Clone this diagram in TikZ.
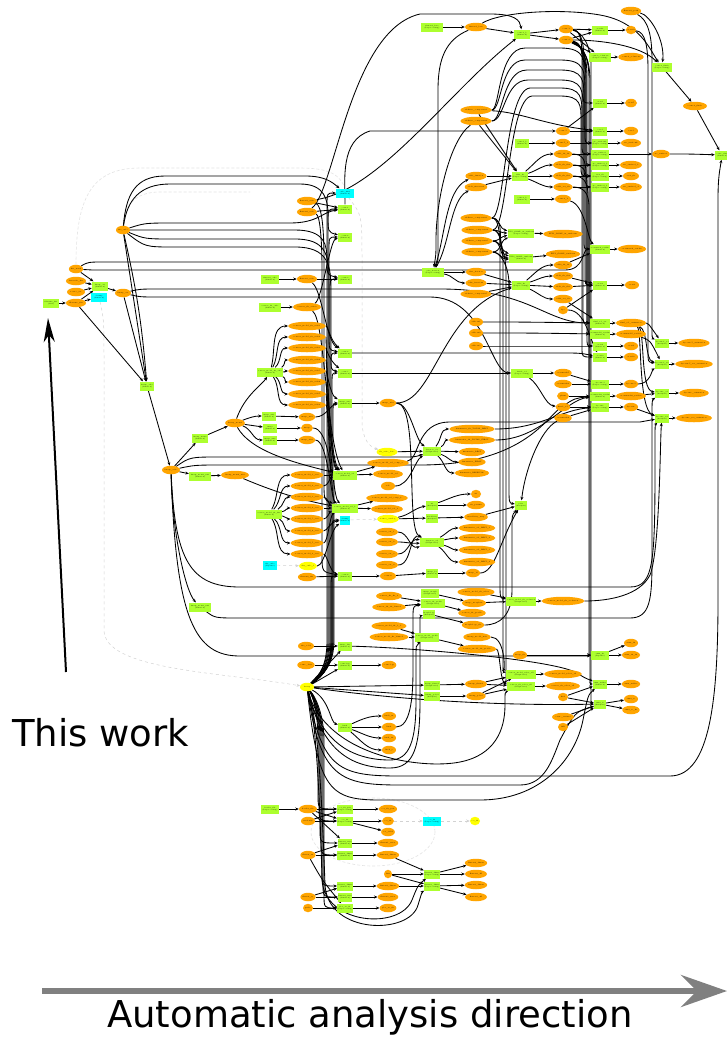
\documentclass[tikz,border=0pt]{standalone}
\usepackage{fontspec}
\newfontfamily\dejavu{DejaVu Sans}
\usetikzlibrary{shapes.geometric,arrows.meta,backgrounds}
\definecolor{gy}{HTML}{ADFF2F}
\definecolor{org}{HTML}{FFA500}
\definecolor{cy}{HTML}{00FFFF}
\definecolor{yl}{HTML}{FFFF00}
\definecolor{dirgray}{HTML}{808080}
\tikzset{
 on/.style={ellipse, fill=org, inner sep=0pt, minimum height=8.5pt, font=\fontsize{1.7}{2}\selectfont},
 gn/.style={rectangle, fill=gy, inner sep=0.3pt, minimum height=9pt, align=center, font=\fontsize{1.6}{1.9}\selectfont},
 cn/.style={gn, fill=cy},
 yn/.style={on, fill=yl},
 e/.style={draw=black, line width=0.85pt, -{Stealth[length=3.5pt,width=3pt]}},
 ge/.style={draw=gray!35, line width=0.5pt, dashed, -{Stealth[length=3.5pt,width=3pt]}},
 fe/.style={draw=gray!22, line width=0.6pt, dash pattern=on 3pt off 2pt},
 bigtext/.style={inner sep=0pt, font=\dejavu\fontsize{37}{40}\selectfont},
}
\newcommand\mkO[4]{\node[on,minimum width=#4pt] (#1) at (#2) {#3};}
\newcommand\mkG[4]{\node[gn,minimum width=#4pt] (#1) at (#2) {#3};}
\newcommand\mkC[4]{\node[cn,minimum width=#4pt] (#1) at (#2) {#3};}
\newcommand\mkY[4]{\node[yn,minimum width=#4pt] (#1) at (#2) {#3};}
\newcommand\mkE[2]{\draw[e] (#1) -- (#2);}
\begin{document}
\begin{tikzpicture}[x=1pt,y=1pt]
\useasboundingbox (0,0) rectangle (727,-1037);
% ---------------- left
\mkO{fitscube}{123,-230}{fits\_cube}{14}
\mkO{fitsmask}{76,-269}{fits\_mask}{14}
\mkO{datacube}{76,-281}{datacube\_fits}{20}
\mkO{sourcecat}{76,-292}{source\_cat}{18}
\mkO{fnfits}{76,-303}{filename\_fits}{20}
\mkG{fnfitsd}{51,-303}{filename\_fits\\(data)}{16}
\mkG{lcat}{100,-286}{lineup\_cat\\(Curation)}{16}
\mkC{lcatc}{99,-297}{cleanup\\(Curation)}{16}
\mkO{lcato}{123,-293}{lineup\_cat}{16}
\mkG{lcubeg}{147,-386}{lineup\_cube\\(Curation)}{14}
\mkO{lcube}{171,-470}{lineup\_cube}{18}
\mkG{lmom}{200,-438}{lineup\_mom0\\(Curation)}{16}
\mkO{lmomo}{235,-423}{lineup\_mom0}{18}
\mkG{img1g}{269,-416}{image\_w01\\(Curation)}{14}
\mkG{img2g}{270,-428}{image\\(Curation)}{14}
\mkG{img3g}{270,-440}{image\_w02\\(Curation)}{14}
\mkO{img1}{307,-417}{image\_w01}{16}
\mkO{img2}{307,-428}{image}{12}
\mkO{img3}{307,-440}{image\_w02}{16}
\mkG{lmomb}{200,-476}{lineup\_mom0\_w03\\(Curation)}{22}
\mkO{lmombo}{235,-475}{lineup\_mom0\_w03}{28}
\mkG{lmomc}{200,-607}{lineup\_mom0\_w01\\(Curation)}{22}
% ---------------- middle column
\mkC{cubefinal}{345,-193}{cube\_final\\(Curation)}{18}
\mkO{flat1}{307,-201}{flatten1\_cube}{18}
\mkO{flat2}{307,-212}{flatten2\_cube}{18}
\mkG{cosmo1}{345,-209}{cosmo1\\(Curation)}{14}
\mkG{cosmo2}{345,-237}{cosmo2\\(Curation)}{14}
\mkG{flat3g}{270,-279}{flatten3\_cube\\(Curation)}{18}
\mkO{flat3}{307,-279}{flatten3\_cube}{18}
\mkG{cosmo3}{345,-279}{cosmo3\\(Curation)}{14}
\mkG{srcfitg}{270,-307}{sources\_fit\_cube\\(Curation)}{22}
\mkO{srcfit}{307,-307}{sources\_fit\_cube0}{28}
\mkG{smfit}{270,-372}{sources\_model\_fit\_cube\\(Curation)}{26}
\mkO{smf1}{307,-326}{sources\_model\_fit\_cube1}{30}
\mkO{smf2}{307,-337}{sources\_model\_fit\_cube2}{30}
\mkO{smf3}{307,-348}{sources\_model\_fit\_cube3}{30}
\mkO{smf4}{307,-360}{sources\_model\_fit\_cube4}{30}
\mkO{smf5}{307,-371}{sources\_model\_fit\_cube5}{30}
\mkO{smf6}{307,-382}{sources\_model\_fit\_cube6}{30}
\mkO{smf7}{307,-394}{sources\_model\_fit\_cube7}{30}
\mkO{smf8}{307,-405}{sources\_model\_fit\_cube8}{30}
\mkG{cosmo4}{345,-353}{cosmo4\\(Curation)}{14}
\mkG{cosmo5}{345,-373}{cosmo5\\(Curation)}{14}
\mkG{imgw}{345,-403}{image\_w03\\(Curation)}{14}
\mkO{imgwo}{388,-403}{image\_w03}{16}
\mkG{smvel}{345,-475}{sources\_model\_vel\\(Curation)}{24}
\mkG{smvelb}{345,-508}{sources\_model\_vel\_b\\(Curation)}{26}
\mkC{cleanc}{345,-520}{cleanup\\(Curation)}{10}
\mkG{cosmo6}{345,-576}{cosmo6\\(Curation)}{14}
\mkG{smfr}{269,-514}{sources\_model\_fit\_flat\\(Curation)}{26}
\mkO{smr1}{307,-475}{sources\_model\_1\_resi}{28}
\mkO{smr2}{307,-486}{sources\_model\_2\_resi}{28}
\mkO{smr3}{307,-497}{sources\_model\_3\_resi}{28}
\mkO{smr4}{307,-508}{sources\_model\_4\_resi}{28}
\mkO{smr5}{307,-519}{sources\_model\_5\_resi}{28}
\mkO{smr6}{307,-531}{sources\_model\_6\_resi}{28}
\mkO{smr7}{307,-543}{sources\_model\_7\_resi}{28}
\mkO{smr8}{307,-554}{sources\_model\_8\_resi}{28}
\mkC{skycube}{270,-565}{sky\_cube\\(Pipeline)}{14}
\mkY{skyc1}{308,-566}{sky\_cube\_1}{14}
\mkO{flat4}{307,-577}{flatten4\_fits}{18}
\mkY{fitcube}{387,-452}{fit\_cube\_base}{14}
\mkO{smvo1}{388,-463}{sources\_model\_vel\_comp\_a}{40}
\mkO{smvo2}{388,-474}{sources\_model\_vel}{30}
\mkO{redo}{388,-486}{redo}{14}
\mkO{smvb1}{387,-498}{sources\_model\_vel\_comp\_b}{40}
\mkO{smvb2}{387,-509}{sources\_model\_vel\_b}{30}
\mkY{sourcey}{388,-519}{source\_catalog}{18}
\mkO{srcs1}{387,-532}{sources\_cat\_1}{22}
\mkO{srcs2}{387,-542}{sources\_cat\_2}{22}
\mkO{srcs3}{387,-554}{sources\_cat\_3}{22}
\mkO{srcs4}{387,-565}{sources\_cat\_4}{22}
\mkO{cosmo6o}{388,-576}{cosmo6}{16}
% ---------------- diagnostics
\mkG{diag1}{432,-451}{diagnose\_res\\(Diagnostics)}{18}
\mkO{d1a}{472,-429}{kinematics\_fit\_TOTAL\_BEST}{38}
\mkO{d1b}{472,-440}{kinematics\_fit\_TOTAL\_FIRST}{36}
\mkO{d1c}{472,-452}{kinematics\_BEST}{22}
\mkO{d1d}{472,-462}{kinematics\_FIRST}{22}
\mkO{d1e}{472,-473}{kinematics\_RESIDUAL}{30}
\mkG{sfg}{432,-505}{sfr\\(Analysis)}{12}
\mkG{metg}{432,-518}{metallicity\\(Analysis)}{12}
\mkO{sfr}{476,-494}{sfr}{10}
\mkO{sfrp}{476,-505}{sfr\_params}{18}
\mkO{met}{476,-517}{metallicity\_map}{20}
\mkG{diag2}{432,-542}{diagnose\_vel\\(Diagnostics)}{24}
\mkO{d2a}{477,-528}{kinematics\_vel\_BEST\_1}{34}
\mkO{d2b}{477,-538}{kinematics\_vel\_BEST\_2}{34}
\mkO{d2c}{477,-550}{kinematics\_vel\_BEST\_3}{34}
\mkO{d2d}{477,-562}{kinematics\_vel\_BEST\_4}{34}
\mkG{imgbg}{432,-573}{image\_bl\\(Curation)}{12}
\mkO{imgb}{473,-573}{image\_bl}{14}
\mkG{plotg}{521,-505}{plots\\(Analysis)}{12}
\mkG{smevg}{521,-601}{sources\_model\_fit\_evolution\\(Diagnostics)}{30}
\mkO{smev}{563,-601}{sources\_model\_fit\_evolution}{36}
\mkG{imgmg}{430,-593}{image\_morph\\(Diagnostics)}{18}
\mkO{smfsel}{476,-592}{sources\_model\_fit\_select}{30}
\mkO{imgm}{474,-603}{image\_morphom}{22}
\mkO{sffit}{389,-596}{sources\_fit\_fit\_b}{22}
\mkO{sfbin}{389,-607}{sources\_fit\_fit\_binned}{28}
\mkG{sfprof}{433,-603}{sources\_fit\_profile\\(Diagnostics)}{24}
\mkO{sfprofo}{472,-613}{sources\_fit\_profile}{26}
\mkG{morphg}{429,-614}{morphology\\(Analysis)}{12}
\mkO{morph}{473,-625}{morphology\_fit}{22}
\mkO{smf1b}{389,-626}{sources\_model\_fit\_1\_b}{22}
\mkO{smfbin}{389,-637}{sources\_model\_fit\_binned}{28}
\mkG{smprof}{427,-637}{sources\_model\_profile\\(Diagnostics)}{24}
\mkO{lineupm}{477,-637}{lineup\_model\_mf3}{22}
\mkO{smprofo}{477,-649}{sources\_model\_fit\_profile}{30}
% ---------------- lineup area
\mkO{flatsolid}{306,-646}{fits\_solid}{16}
\mkG{imgfits}{345,-646}{image\_fits\\(Curation)}{14}
\mkO{cosmo7o}{306,-665}{cosmo\_data}{16}
\mkG{cosmo7}{345,-665}{cosmology\\(Curation)}{14}
\mkO{cosmology}{389,-665}{cosmology}{14}
\mkY{lineup}{307,-687}{lineup}{14}
\mkG{lfirst}{432,-685}{lineup\_firstsel\\(Diagnostics)}{16}
\mkO{lfirsto}{476,-684}{lineup\_firstsel}{22}
\mkG{lpol}{432,-696}{lineup\_polsel\\(Analysis)}{16}
\mkO{lpolo}{476,-696}{lineup\_polsel}{16}
\mkG{smsel}{521,-674}{sources\_model\_select\_all\\(Diagnostics)}{30}
\mkO{smselo}{563,-674}{sources\_model\_select\_all}{36}
\mkG{sfsel}{521,-686}{sources\_fit\_select\_all\\(Diagnostics)}{28}
\mkO{sfselo}{563,-686}{sources\_fit\_select\_all}{34}
\mkO{imgfit}{520,-655}{image\_fit}{12}
\mkG{simfit}{600,-655}{simu\_fit\\(Pipeline)}{18}
\mkO{simfita}{631,-643}{simu\_fit}{14}
\mkO{simfitb}{631,-655}{simu\_fit\_fit}{16}
\mkO{fitA}{563,-697}{fitA}{10}
\mkG{simwal}{600,-684}{simu\_walker\\(Curation)}{14}
\mkO{simwalo}{631,-684}{simu\_walker}{18}
\mkG{simre}{600,-704}{simu\_re\\(Analysis)}{12}
\mkO{simrea}{631,-699}{simu\_re}{14}
\mkO{simreb}{631,-710}{simu\_re\_fit}{16}
\mkO{cosmotr}{563,-717}{cosmo\_trainsel}{18}
\mkO{fitB}{563,-727}{fitB}{10}
\mkG{lineh}{345,-727}{lineh\\(Curation)}{14}
\mkO{lineha}{389,-716}{lineh\_sn}{14}
\mkO{linehb}{389,-727}{lineh}{14}
\mkO{linehc}{389,-738}{lineh\_fit}{14}
\mkO{linehd}{389,-750}{lineh\_y}{14}
% ---------------- bottom group
\mkG{headerg}{270,-809}{header\_file\\(Preprocessing)}{18}
\mkO{header}{308,-809}{header\_file}{18}
\mkG{cosfitg}{345,-809}{cos\_fit\_pair\\(Preprocessing)}{16}
\mkO{cosfit}{388,-809}{cos\_fit\_pair}{16}
\mkO{randomo}{308,-821}{randomly}{14}
\mkG{cosg}{345,-821}{cos\_fit\\(Preprocessing)}{16}
\mkO{cosfito}{388,-821}{cos\_fit}{12}
\mkO{cosvalid}{388,-832}{cos\_valid}{12}
\mkC{cosc}{432,-821}{cos\_fit\\(Preprocessing)}{18}
\mkY{cosy}{475,-821}{cos\_fit}{10}
\mkG{fl1g}{345,-843}{flatten1\_rates\\(Curation)}{14}
\mkO{fl1}{388,-843}{flatten1\_rates}{16}
\mkO{flxo}{308,-855}{flatten\_xx}{14}
\mkG{fl2g}{345,-855}{flatten1\_dfmax\\(Curation)}{14}
\mkO{fl2}{388,-855}{flatten1\_dfmax}{16}
\mkO{dust}{388,-874}{dust}{8}
\mkG{fl3g}{432,-874}{flatten2\_dfmax\\(Preprocessing)}{16}
\mkG{fl4g}{432,-886}{flatten3\_dfmax\\(Preprocessing)}{16}
\mkO{r1}{476,-863}{flatten2\_dfmax}{22}
\mkO{r2}{476,-874}{flatten2\_dfl}{22}
\mkO{r3}{476,-885}{flatten3\_dfmax}{22}
\mkO{r4}{476,-897}{flatten3\_dfl}{22}
\mkG{fl5g}{345,-886}{flatten3\_dfmax\\(Curation)}{14}
\mkO{fl5}{388,-886}{flatten3\_dfmax}{16}
\mkO{flyo}{308,-897}{flatten\_yy}{14}
\mkG{fl6g}{345,-897}{flatten3\_rates\\(Curation)}{14}
\mkO{fl6}{388,-897}{flatten3\_rates}{14}
\mkO{gradio}{308,-908}{gradio}{10}
\mkG{pltg}{345,-908}{plot\_as\_fit\\(Preprocessing)}{14}
\mkO{plt}{388,-908}{plot\_as\_fit}{12}
% ---------------- top right
\mkG{flbase}{432,-27}{flatten1\_base\\(Preprocessing)}{22}
\mkO{flbaseo}{476,-27}{flatten1\_base}{22}
\mkG{cosm1}{522,-34}{cosmo1\_b\\(Curation)}{16}
\mkO{cm1}{566,-29}{cosmo1}{14}
\mkO{cm2}{566,-40}{cosmo2}{14}
\mkG{crosslg}{600,-30}{crossfit\\(Curation)}{16}
\mkO{crossl}{631,-30}{crossfit}{10}
\mkO{flpeak}{631,-11}{flatten1\_peak}{20}
\mkG{cm2solg}{600,-57}{cosmo2\_solutions\\(Preprocessing)}{22}
\mkO{cm2sol}{631,-57}{cosmo2\_solutions}{24}
\mkG{cm2fin}{662,-67}{cosmo2\_finale\\(Preprocessing)}{20}
\mkO{cm2fino}{695,-106}{cosmo2\_finale}{24}
\mkG{final}{722,-155}{cosmo\_final\\(Curation)}{14}
\mkO{adt1}{476,-110}{additive\_component1}{26}
\mkO{adt2}{476,-121}{additive\_component2}{26}
\mkG{cross7g}{600,-103}{cross7\\(Curation)}{14}
\mkO{cross7}{631,-103}{cross7}{12}
\mkO{cosmo7b}{563,-131}{cosmo7}{14}
\mkG{cossolg}{600,-131}{cossol\\(Curation)}{14}
\mkO{cossol}{631,-131}{cossol}{14}
\mkG{cosmo7g}{522,-143}{cosmo7\_b\\(Curation)}{14}
\mkO{cosmo7c}{563,-143}{cosmo7\_b}{14}
\mkG{sncg}{600,-143}{src\_surfcomb\\(Preprocessing)}{16}
\mkO{snc}{631,-143}{src\_surfcomb}{20}
\mkG{sncfg}{600,-154}{src\_surfacef\\(Preprocessing)}{18}
\mkO{sncf}{661,-154}{src\_surfacef}{16}
\mkO{add1}{563,-154}{add1\_fit\_fit}{14}
\mkO{add2}{563,-165}{add1\_fit\_fit2}{14}
\mkO{add3}{563,-176}{add1\_fit\_fit3}{14}
\mkO{add4}{563,-187}{add1\_res\_fit}{14}
\mkG{snc2g}{600,-165}{src\_surfacel\_b\\(Preprocessing)}{18}
\mkO{snc2}{631,-165}{src\_surfacel\_b}{22}
\mkG{snc3g}{600,-176}{src2\_fit\\(Preprocessing)}{18}
\mkO{snc3}{631,-176}{src2\_fit}{16}
\mkG{snc4g}{600,-187}{src\_surfacel\_d\\(Preprocessing)}{18}
\mkO{snc4}{631,-187}{src\_surfacel\_d}{22}
\mkG{addfit}{520,-176}{add1\_fit\\(Preprocessing)}{16}
\mkO{addf1}{476,-176}{add1\_function}{18}
\mkO{addf2}{476,-187}{add1\_function2}{20}
\mkG{cm8g}{522,-199}{cosmo8\_b\\(Curation)}{16}
\mkO{cm8}{563,-199}{cosmo8\_b}{16}
\mkO{adc1}{476,-218}{additive\_component3}{26}
\mkO{adc2}{477,-230}{additive\_component4}{26}
\mkO{adc3}{477,-241}{additive\_component5}{26}
\mkO{adc4}{477,-252}{additive\_component6}{26}
\mkG{fitsA}{521,-233}{FITS\_COMP\_in\_sunbeam\\(Preprocessing)}{26}
\mkO{fitsAo}{563,-234}{FITS\_COMP\_in\_sunbeam}{32}
\mkG{fitsB}{521,-258}{FITS\_COMP\_sunbeam\\(Curation)}{24}
\mkO{fitsBo}{563,-254}{FITS\_COMP\_sunbeam}{32}
\mkG{sdssfit}{433,-272}{sdss\_fraction\\(Preprocessing)}{22}
\mkO{sdss1}{476,-272}{sdss\_fraction}{20}
\mkO{sdss2}{476,-283}{sdss\_fraction2}{20}
\mkO{adc5}{476,-294}{additive\_component7}{26}
\mkG{addb}{521,-285}{add2\_fit\\(Preprocessing)}{18}
\mkO{ab1}{563,-265}{add2\_fit\_fit}{16}
\mkO{ab2}{563,-276}{add2\_fit\_fit2}{16}
\mkO{ab3}{563,-287}{add2\_fit\_fit3}{16}
\mkO{ab4}{563,-299}{add2\_res\_fit}{16}
\mkO{dpc}{563,-310}{dpc}{10}
\mkG{cmrg}{600,-249}{crossmatch\_residue\\(Curation)}{18}
\mkO{cmr}{632,-249}{crossmatch\_residue}{24}
\mkG{cross8g}{600,-285}{cross8\\(Curation)}{14}
\mkO{cross8}{632,-285}{cross8}{14}
\mkO{addc1}{476,-322}{addcom1}{14}
\mkO{addc2}{476,-333}{addcom2}{14}
\mkO{addc3}{476,-346}{addcom3}{14}
\mkG{finalsg}{600,-323}{final\_sol\_est\\(Curation)}{20}
\mkO{finals}{631,-323}{final\_sol\_estimation}{24}
\mkG{cm7rg}{600,-334}{crossmatch7\_residue\\(Curation)}{18}
\mkO{cm7r}{631,-334}{crossmatch7\_residue}{24}
\mkG{cross9g}{600,-346}{cross9\\(Curation)}{14}
\mkO{cross9}{631,-346}{cross9}{14}
\mkG{cross10g}{600,-357}{cross10\\(Curation)}{14}
\mkO{cross10}{631,-357}{cross10}{14}
\mkG{dc7g}{662,-343}{dycosmo7\_sol\\(Analysis)}{14}
\mkO{dc7}{694,-343}{dycosmo7\_estimation}{26}
\mkG{dc7bg}{662,-364}{dycosmo7\_res\\(Analysis)}{14}
\mkO{dc7b}{694,-364}{dycosmo7\_res\_estimation}{30}
\mkG{dcmg}{662,-393}{dycosmo\_sol\\(Analysis)}{14}
\mkO{dcm}{694,-393}{dycosmo\_estimation}{28}
\mkG{dcm2g}{662,-418}{dycosmo\_res\\(Analysis)}{14}
\mkO{dcm2}{694,-418}{dycosmo\_res\_estimation}{30}
\mkG{fittab}{522,-373}{fittab\_sol\\(Preprocessing)}{22}
\mkO{ft1}{563,-373}{crossmatch7}{14}
\mkO{ft2}{563,-384}{crossmatch8}{14}
\mkO{ft3}{563,-396}{gdiam}{12}
\mkO{ft4}{563,-407}{fittab\_sol}{12}
\mkO{ft5}{563,-418}{crossmatch9}{14}
\mkG{dc8g}{600,-384}{dycosmo7\\(Preprocessing)}{18}
\mkO{dc8}{631,-384}{dycosmo7}{14}
\mkG{cm9g}{600,-396}{crossmatch9\_residue\\(Curation)}{18}
\mkO{cm9}{631,-396}{crossmatch9\_residue}{24}
\mkG{dyg}{600,-407}{dycosmo\\(Preprocessing)}{18}
\mkO{dy}{631,-407}{dycosmo}{14}
% ---------------- texts and big arrows
\node[bigtext, anchor=base west] (thiswork) at (12,-746) {This work};
\node[bigtext, anchor=base west] (direction) at (107,-1027) {Automatic analysis direction};
\coordinate (twA) at (66,-672);
\coordinate (twB) at (48,-318);
\coordinate (dirA) at (42,-991);
\coordinate (dirB) at (727,-991);
\draw[line width=2pt, -{Stealth[length=24pt,width=11pt,inset=7pt]}] (twA) -- (twB);
\draw[dirgray, line width=6pt, -{Stealth[length=46pt,width=32pt,inset=16pt]}] (dirA) -- (dirB);

\begin{pgfonlayer}{background}
\fill[white] (0,0) rectangle (727,-1037);
% faint cluster lines
\draw[fe] (fitsmask.north) .. controls (76,-200) and (90,-168) .. (140,-168) -- (300,-168) .. controls (330,-168) and (340,-175) .. (cubefinal.north);
\draw[fe] (fitscube.north) .. controls (125,-205) and (135,-192) .. (160,-192) -- (250,-192);
\draw[ge] (lcatc) .. controls (104,-320) .. (104,-360) -- (104,-630) .. controls (104,-670) and (220,-672) .. (lineup);
\draw[ge] (cubefinal) .. controls (362,-215) .. (362,-260) -- (362,-420) .. controls (362,-440) and (370,-447) .. (fitcube);
\draw[fe] (373,-832) ellipse (62pt and 34pt);
% left
\mkE{fnfitsd}{fnfits}
\mkE{fitsmask}{lcat}
\mkE{datacube}{lcat}
\mkE{sourcecat}{lcat}
\mkE{fnfits}{lcat}
\mkE{fnfits}{lcatc}
\mkE{lcat}{lcato}
\mkE{fnfits}{lcubeg}
\mkE{lcato}{lcubeg}
\mkE{fitscube}{lcubeg}
\draw[e] (fitscube) to[bend left=4] (lcubeg);
\mkE{lcubeg}{lcube}
\mkE{lcube}{lmom}
\mkE{lmom}{lmomo}
\draw[e] (lmomo) to[out=20,in=180] (img1g);
\mkE{lmomo}{img2g}
\draw[e] (lmomo) to[out=-20,in=180] (img3g);
\mkE{img1g}{img1}
\mkE{img2g}{img2}
\mkE{img3g}{img3}
\mkE{lcube}{lmomb}
\mkE{lmomb}{lmombo}
\draw[e] (lcube) .. controls (172,-530) and (185,-590) .. (lmomc);
% fitscube fan
\draw[e] (fitscube) .. controls (126,-195) and (135,-176) .. (165,-176) -- (305,-176) .. controls (325,-176) and (332,-182) .. (cubefinal);
\draw[e] (fitscube) .. controls (127,-200) and (140,-184) .. (170,-184) -- (300,-184) .. controls (325,-184) and (328,-200) .. (328,-215) .. controls (328,-232) .. (cosmo2);
\draw[e] (fitscube) .. controls (145,-223) .. (175,-223) -- (290,-223) .. controls (318,-223) and (322,-212) .. (cosmo1);
\draw[e] (fitscube) .. controls (145,-230) .. (175,-230) -- (295,-230) .. controls (325,-230) and (327,-245) .. (327,-260) .. controls (327,-275) .. (cosmo3);
\draw[e] (fitscube) .. controls (145,-239) .. (175,-239) -- (295,-239) .. controls (326,-239) and (329,-255) .. (329,-280) -- (329,-335) .. controls (329,-350) .. (cosmo4);
\draw[e] (fitscube) .. controls (145,-247) .. (175,-247) -- (295,-247) .. controls (328,-247) and (331,-265) .. (331,-290) -- (331,-355) .. controls (331,-370) .. (cosmo5);
% long horizontals from the left
\draw[e] (fitsmask) .. controls (88,-262) .. (105,-262) -- (495,-262) .. controls (512,-262) .. (fitsB);
\draw[e] (fitsmask) .. controls (90,-270) .. (110,-270) -- (565,-270) .. controls (585,-270) and (582,-249) .. (cmrg);
\draw[e] (lcato) .. controls (140,-289) .. (160,-289) -- (440,-289) .. controls (530,-289) and (545,-323) .. (finalsg);
\draw[e] (lcato) .. controls (140,-297) .. (160,-297) -- (430,-297) .. controls (485,-297) and (490,-373) .. (fittab);
\draw[e] (lcube) .. controls (190,-457) .. (220,-457) -- (400,-457) .. controls (415,-457) .. (diag1);
\draw[e] (lcube) .. controls (195,-465) .. (225,-465) -- (420,-465) .. controls (520,-465) and (545,-420) .. (560,-408) .. controls (575,-398) .. (cm9g);
\draw[e] (lcube) .. controls (175,-560) and (190,-587) .. (240,-587) -- (630,-587) .. controls (655,-587) and (655,-560) .. (655,-450) .. controls (655,-425) .. (dcm2g);
\draw[e] (lcube) .. controls (176,-620) and (195,-656) .. (240,-656) -- (585,-656) -- (simfit);
\draw[e] (lmomc) .. controls (215,-618) .. (240,-618) -- (630,-618) .. controls (650,-618) and (652,-600) .. (652,-560) -- (652,-420) .. controls (652,-400) .. (dcmg);
\draw[e] (lmomo) .. controls (245,-395) and (262,-385) .. (smfit);
\draw[e] (lmomo) .. controls (250,-450) and (290,-462) .. (smvel);
\draw[e] (lmombo) .. controls (270,-490) and (300,-500) .. (smvelb);
\draw[e] (img1) .. controls (326,-417) and (330,-405) .. (imgw);
\draw[e] (img2) .. controls (327,-428) and (331,-470) .. (smvel);
\draw[e] (img3) .. controls (328,-440) and (331,-500) .. (smvelb);
% middle column
\mkE{flat1}{cosmo1}
\mkE{flat2}{cosmo1}
\draw[e] (flat1) .. controls (322,-205) and (324,-230) .. (324,-260) -- (324,-480) .. controls (324,-500) .. (smvelb);
\draw[e] (flat2) .. controls (320,-215) and (322,-240) .. (322,-270) -- (322,-555) .. controls (322,-572) .. (cosmo6);
\mkE{flat3g}{flat3}
\mkE{flat3}{cosmo3}
\draw[e] (flat3) .. controls (322,-290) and (326,-340) .. (cosmo4);
\mkE{srcfitg}{srcfit}
\draw[e] (srcfit) .. controls (325,-320) and (326,-440) .. (smvel);
\draw[e] (srcfit) .. controls (322,-300) and (330,-240) .. (cosmo2);
\draw[e] (smfit) to[out=75,in=180] (smf1);
\draw[e] (smfit) to[out=60,in=180] (smf2);
\draw[e] (smfit) to[out=42,in=180] (smf3);
\draw[e] (smfit) to[out=22,in=180] (smf4);
\draw[e] (smfit) to[out=0,in=180] (smf5);
\draw[e] (smfit) to[out=-20,in=180] (smf6);
\draw[e] (smfit) to[out=-40,in=180] (smf7);
\draw[e] (smfit) to[out=-55,in=180] (smf8);
\draw[e] (smf1) .. controls (328,-326) and (330,-340) .. (cosmo4);
\draw[e] (smf2) .. controls (326,-337) and (329,-460) .. (smvel);
\draw[e] (smf3) .. controls (326,-348) and (329,-360) .. (cosmo5);
\draw[e] (smf4) .. controls (327,-360) and (330,-465) .. (smvel);
\draw[e] (smf5) .. controls (327,-371) and (330,-395) .. (imgw);
\draw[e] (smf6) .. controls (327,-382) and (331,-495) .. (smvelb);
\draw[e] (smf7) .. controls (327,-394) and (331,-500) .. (smvelb);
\draw[e] (smf8) .. controls (328,-405) and (332,-465) .. (smvel);
\draw[e] (cosmo4) .. controls (400,-353) .. (450,-353) -- (560,-353) .. controls (580,-353) .. (cross10g);
\mkE{cosmo5}{fittab}
\mkE{imgw}{imgwo}
\draw[e] (imgwo) .. controls (410,-403) and (415,-440) .. (diag1);
\draw[e] (imgwo) .. controls (420,-403) and (405,-530) .. (diag2);
\draw[e] (imgwo) .. controls (435,-403) and (440,-310) .. (addb);
\draw[e] (smfr) to[out=60,in=180] (smr1);
\draw[e] (smfr) to[out=45,in=180] (smr2);
\draw[e] (smfr) to[out=28,in=180] (smr3);
\draw[e] (smfr) to[out=10,in=180] (smr4);
\draw[e] (smfr) to[out=-8,in=180] (smr5);
\draw[e] (smfr) to[out=-25,in=180] (smr6);
\draw[e] (smfr) to[out=-42,in=180] (smr7);
\draw[e] (smfr) to[out=-58,in=180] (smr8);
\mkE{smr1}{smvel}
\draw[e] (smr2) .. controls (328,-486) and (330,-478) .. (smvel);
\draw[e] (smr3) .. controls (327,-497) and (330,-505) .. (smvelb);
\mkE{smr4}{smvelb}
\draw[e] (smr5) .. controls (327,-519) and (330,-512) .. (smvelb);
\draw[e] (smr6) .. controls (327,-531) and (330,-522) .. (cleanc);
\draw[e] (smr7) .. controls (328,-543) and (330,-515) .. (smvelb);
\draw[e] (smr8) .. controls (327,-554) and (330,-572) .. (cosmo6);
\draw[ge] (skycube) -- (skyc1);
\draw[e] (skyc1) .. controls (325,-566) and (330,-530) .. (cleanc);
\mkE{flat4}{cosmo6}
\mkE{cosmo6}{cosmo6o}
\mkE{smvel}{smvo1}
\mkE{smvel}{smvo2}
\mkE{smvelb}{smvb1}
\mkE{smvelb}{smvb2}
\draw[ge] (cleanc) -- (sourcey);
\draw[e] (sourcey) to[out=10,in=190] (sfg);
\mkE{sourcey}{metg}
\draw[e] (srcs1) to[out=0,in=200] (diag2);
\draw[e] (srcs2) to[out=0,in=185] (diag2);
\draw[e] (srcs3) to[out=0,in=170] (diag2);
\draw[e] (srcs4) to[out=0,in=155] (diag2);
\draw[e] (redo) .. controls (410,-486) and (415,-460) .. (diag1);
\mkE{fitcube}{diag1}
\draw[e] (diag1) to[out=50,in=180] (d1a);
\draw[e] (diag1) to[out=25,in=180] (d1b);
\mkE{diag1}{d1c}
\draw[e] (diag1) to[out=-20,in=180] (d1d);
\draw[e] (diag1) to[out=-40,in=180] (d1e);
\draw[e] (sfg) to[out=20,in=180] (sfr);
\mkE{sfg}{sfrp}
\mkE{metg}{met}
\mkE{met}{plotg}
\draw[e] (diag2) to[out=30,in=180] (d2a);
\draw[e] (diag2) to[out=10,in=180] (d2b);
\draw[e] (diag2) to[out=-15,in=180] (d2c);
\draw[e] (diag2) to[out=-35,in=180] (d2d);
\mkE{cosmo6o}{imgbg}
\mkE{imgbg}{imgb}
\draw[e] (imgb) .. controls (495,-573) and (500,-540) .. (plotg);
\draw[e] (ft5) .. controls (540,-430) and (525,-470) .. (plotg);
% lower middle
\mkE{sffit}{sfprof}
\mkE{sfbin}{sfprof}
\mkE{imgmg}{imgm}
\mkE{sfprof}{sfprofo}
\mkE{morphg}{morph}
\mkE{smprof}{smprofo}
\mkE{smfsel}{smevg}
\mkE{imgm}{smevg}
\mkE{smevg}{smev}
\draw[e] (morph) .. controls (500,-625) and (512,-615) .. (512,-590) -- (512,-530) .. controls (512,-515) .. (plotg);
\draw[e] (lineupm) .. controls (505,-637) and (505,-670) .. (smsel);
\draw[e] (smprofo) .. controls (500,-649) and (500,-682) .. (sfsel);
\mkE{smf1b}{smprof}
\mkE{smfbin}{smprof}
\mkE{flatsolid}{imgfits}
\mkE{cosmo7o}{cosmo7}
\mkE{cosmo7}{cosmology}
\draw[e] (imgfits) .. controls (420,-648) and (550,-660) .. (575,-672) .. controls (585,-678) .. (simwal);
\mkE{imgfit}{simfit}
\mkE{simfit}{simfita}
\mkE{simfit}{simfitb}
\mkE{fitA}{simre}
\mkE{fitA}{simwal}
\mkE{cosmotr}{simre}
\mkE{fitB}{simre}
\mkE{simre}{simrea}
\mkE{simre}{simreb}
\mkE{simwal}{simwalo}
\mkE{lfirst}{lfirsto}
\mkE{lpol}{lpolo}
\mkE{lfirsto}{smsel}
\mkE{lfirsto}{sfsel}
\mkE{lpolo}{sfsel}
\mkE{lpolo}{smsel}
\mkE{smsel}{smselo}
\mkE{sfsel}{sfselo}
\draw[e] (lineh) to[out=25,in=180] (lineha);
\mkE{lineh}{linehb}
\draw[e] (lineh) to[out=-20,in=180] (linehc);
\draw[e] (lineh) to[out=-40,in=180] (linehd);
\draw[e] (linehb) .. controls (410,-727) and (413,-700) .. (413,-670) -- (413,-620) .. controls (413,-606) .. (sfprof);
% lineup fan
\mkE{lineup}{imgfits}
\mkE{lineup}{cosmo7}
\mkE{lineup}{lfirst}
\mkE{lineup}{lpol}
\draw[e] (lineup) .. controls (400,-700) and (500,-706) .. (simre);
\draw[e] (lineup) .. controls (330,-700) and (330,-722) .. (lineh);
\draw[e] (lineup) .. controls (320,-675) and (327,-665) .. (327,-640) -- (327,-207) .. controls (327,-193) .. (cubefinal);
\draw[e] (lineup) .. controls (320,-675) and (328,-665) .. (328,-640) -- (328,-223) .. controls (328,-209) .. (cosmo1);
\draw[e] (lineup) .. controls (321,-675) and (329,-665) .. (329,-640) -- (329,-251) .. controls (329,-237) .. (cosmo2);
\draw[e] (lineup) .. controls (321,-675) and (330,-665) .. (330,-640) -- (330,-293) .. controls (330,-279) .. (cosmo3);
\draw[e] (lineup) .. controls (322,-675) and (331,-665) .. (331,-640) -- (331,-367) .. controls (331,-353) .. (cosmo4);
\draw[e] (lineup) .. controls (322,-675) and (332,-665) .. (332,-640) -- (332,-387) .. controls (332,-373) .. (cosmo5);
\draw[e] (lineup) .. controls (323,-675) and (333,-665) .. (333,-640) -- (333,-417) .. controls (333,-403) .. (imgw);
\draw[e] (lineup) .. controls (323,-675) and (334,-665) .. (334,-640) -- (334,-489) .. controls (334,-475) .. (smvel);
\draw[e] (lineup) .. controls (324,-675) and (333,-665) .. (333,-640) -- (333,-522) .. controls (333,-508) .. (smvelb);
\draw[e] (lineup) .. controls (324,-675) and (332,-665) .. (332,-640) -- (332,-534) .. controls (332,-520) .. (cleanc);
\draw[e] (lineup) .. controls (325,-675) and (331,-665) .. (331,-640) -- (331,-590) .. controls (331,-576) .. (cosmo6);
\draw[e] (lineup) .. controls (315,-700) and (318,-720) .. (318,-740) -- (318,-795) .. controls (318,-809) .. (cosfitg);
\draw[e] (lineup) .. controls (315,-700) and (319,-720) .. (319,-740) -- (319,-807) .. controls (319,-821) .. (cosg);
\draw[e] (lineup) .. controls (316,-700) and (320,-720) .. (320,-740) -- (320,-829) .. controls (320,-843) .. (fl1g);
\draw[e] (lineup) .. controls (316,-700) and (321,-720) .. (321,-740) -- (321,-841) .. controls (321,-855) .. (fl2g);
\draw[e] (lineup) .. controls (317,-700) and (322,-720) .. (322,-740) -- (322,-872) .. controls (322,-886) .. (fl5g);
\draw[e] (lineup) .. controls (317,-700) and (323,-720) .. (323,-740) -- (323,-883) .. controls (323,-897) .. (fl6g);
\draw[e] (lineup) .. controls (318,-700) and (324,-720) .. (324,-740) -- (324,-894) .. controls (324,-908) .. (pltg);
\draw[e] (lineup) .. controls (316,-720) and (320,-800) .. (322,-880) .. controls (325,-925) and (400,-930) .. (412,-900) .. controls (418,-885) .. (fl3g);
\draw[e] (lineup) .. controls (318,-720) and (322,-800) .. (325,-885) .. controls (328,-935) and (410,-935) .. (418,-905) .. controls (422,-892) .. (fl4g);
\draw[e] (lineup) .. controls (320,-740) and (350,-760) .. (390,-760) .. controls (410,-760) and (416,-740) .. (416,-700) -- (416,-660) .. controls (416,-645) .. (smprof);
\draw[e] (lineup) .. controls (322,-750) and (350,-768) .. (390,-768) .. controls (415,-768) and (420,-745) .. (420,-700) -- (420,-628) .. controls (420,-616) .. (morphg);
\draw[e] (lineup) .. controls (325,-755) and (420,-770) .. (460,-762) .. controls (495,-755) and (505,-730) .. (505,-705) .. controls (505,-692) .. (sfsel);
\draw[e] (lineup) .. controls (322,-770) and (340,-776) .. (400,-776) -- (670,-776) .. controls (710,-776) and (718,-700) .. (718,-600) -- (718,-200) .. controls (718,-175) and (720,-170) .. (final);
\draw[e] (lineup) .. controls (320,-778) and (340,-785) .. (400,-785) -- (520,-785) .. controls (545,-785) and (552,-760) .. (560,-740) .. controls (575,-712) .. (simre);
\draw[e] (lineup) .. controls (318,-790) and (330,-800) .. (380,-800) -- (480,-800) .. controls (540,-800) and (575,-760) .. (583,-720) .. controls (588,-695) .. (simwal);
% bottom group
\mkE{headerg}{header}
\mkE{header}{cosfitg}
\mkE{header}{cosg}
\mkE{header}{fl1g}
\mkE{randomo}{cosfitg}
\mkE{randomo}{cosg}
\mkE{cosfitg}{cosfit}
\mkE{cosg}{cosfito}
\mkE{cosg}{cosvalid}
\draw[ge] (cosfito) -- (cosc);
\draw[ge] (cosc) -- (cosy);
\mkE{flxo}{fl1g}
\mkE{flxo}{fl2g}
\mkE{fl1g}{fl1}
\mkE{fl2g}{fl2}
\mkE{fl2}{fl3g}
\mkE{dust}{fl3g}
\mkE{dust}{fl4g}
\mkE{fl5}{fl4g}
\mkE{fl3g}{r1}
\mkE{fl3g}{r2}
\mkE{fl4g}{r3}
\mkE{fl4g}{r4}
\mkE{flyo}{fl5g}
\mkE{flyo}{fl6g}
\mkE{fl5g}{fl5}
\mkE{fl6g}{fl6}
\mkE{gradio}{pltg}
\mkE{pltg}{plt}
\draw[e] (flxo) .. controls (322,-880) .. (pltg);
% top right
\mkE{flbase}{flbaseo}
\mkE{flbaseo}{cosm1}
\draw[e] (flbaseo) .. controls (500,-12) and (560,-8) .. (600,-15) .. controls (640,-22) and (650,-50) .. (cm2fin);
\mkE{cosm1}{cm1}
\mkE{cosm1}{cm2}
\mkE{cm1}{crosslg}
\mkE{cm2}{crosslg}
\mkE{crosslg}{crossl}
\mkE{cm1}{cm2solg}
\mkE{cm2}{cm2solg}
\mkE{cm2solg}{cm2sol}
\draw[e] (cm2) .. controls (600,-40) and (640,-45) .. (cm2fin);
\draw[e] (flpeak) .. controls (650,-15) and (665,-40) .. (cm2fin);
\mkE{cm2fin}{cm2fino}
\mkE{cm2fino}{final}
\draw[e] (sncf) .. controls (690,-154) .. (final);
\draw[e] (flpeak) .. controls (648,-20) and (652,-35) .. (652,-60) -- (652,-325) .. controls (652,-338) .. (dc7g);
\draw[e] (crossl) .. controls (645,-32) and (648,-45) .. (648,-70) -- (648,-350) .. controls (648,-362) .. (dc7bg);
\draw[e] (flat1) .. controls (380,-190) and (450,-90) .. (cosm1);
\draw[e] (flat2) .. controls (335,-190) and (350,-30) .. (420,-14) -- (490,-14) .. controls (515,-14) and (520,-20) .. (cosm1);
\draw[e] (cm2) .. controls (580,-42) and (583,-50) .. (583,-70) -- (583,-93) .. controls (583,-103) .. (cross7g);
\draw[e] (cm2) .. controls (581,-43) and (584,-52) .. (584,-72) -- (584,-121) .. controls (584,-131) .. (cossolg);
\draw[e] (cm2) .. controls (582,-44) and (585,-54) .. (585,-74) -- (585,-133) .. controls (585,-143) .. (sncg);
\draw[e] (cm2) .. controls (583,-45) and (586,-56) .. (586,-76) -- (586,-155) .. controls (586,-165) .. (snc2g);
\draw[e] (cm2) .. controls (584,-46) and (587,-58) .. (587,-78) -- (587,-336) .. controls (587,-346) .. (cross9g);
\draw[e] (cm2) .. controls (585,-47) and (589,-60) .. (589,-80) -- (589,-645) .. controls (589,-655) .. (simfit);
\draw[e] (cm2) .. controls (586,-48) and (590,-62) .. (590,-82) -- (590,-674) .. controls (590,-684) .. (simwal);
\draw[e] (cm1) .. controls (580,-30) and (582,-40) .. (582,-60) -- (582,-144) .. controls (582,-154) .. (sncfg);
\draw[e] (cm1) .. controls (581,-31) and (584,-42) .. (584,-62) -- (584,-166) .. controls (584,-176) .. (snc3g);
\draw[e] (cm1) .. controls (582,-32) and (591,-45) .. (591,-65) -- (591,-694) .. controls (591,-704) .. (simre);
\draw[e] (adt1) .. controls (500,-110) and (498,-48) .. (525,-48) -- (560,-48) .. controls (586,-48) and (586,-60) .. (586,-90) -- (586,-177) .. controls (586,-187) .. (snc4g);
\draw[e] (adt1) .. controls (502,-110) and (500,-60) .. (525,-60) -- (560,-60) .. controls (585,-60) and (585,-70) .. (585,-95) -- (585,-275) .. controls (585,-285) .. (cross8g);
\draw[e] (adt2) .. controls (503,-121) and (502,-70) .. (527,-70) -- (560,-70) .. controls (584,-70) and (584,-80) .. (584,-100) -- (584,-239) .. controls (584,-249) .. (cmrg);
\draw[e] (adt2) .. controls (505,-121) and (504,-80) .. (528,-80) -- (560,-80) .. controls (583,-80) and (583,-90) .. (583,-110) -- (583,-313) .. controls (583,-323) .. (finalsg);
\draw[e] (adc1) .. controls (505,-218) and (505,-90) .. (530,-88) -- (560,-88) .. controls (582,-88) and (582,-98) .. (582,-115) -- (582,-347) .. controls (582,-357) .. (cross10g);
\draw[e] (adc2) .. controls (508,-230) and (508,-98) .. (532,-96) -- (560,-96) .. controls (581,-96) and (581,-105) .. (581,-120) -- (581,-166) .. controls (581,-176) .. (snc3g);
\mkE{adt1}{addfit}
\mkE{adt2}{addfit}
\draw[e] (adt1) .. controls (520,-112) and (545,-125) .. (cossolg);
\draw[e] (cosmo1) .. controls (345,-180) and (340,-140) .. (370,-131) -- (540,-131) -- (cosmo7b);
\mkE{cosmo7b}{cossolg}
\mkE{cosmo7b}{cross7g}
\mkE{cosmo7g}{cosmo7c}
\mkE{cosmo7c}{sncg}
\mkE{cross7g}{cross7}
\mkE{cossolg}{cossol}
\mkE{sncg}{snc}
\mkE{sncfg}{sncf}
\mkE{snc2g}{snc2}
\mkE{snc3g}{snc3}
\mkE{snc4g}{snc4}
\draw[e] (addfit) to[out=40,in=180] (add1);
\draw[e] (addfit) to[out=18,in=180] (add2);
\mkE{addfit}{add3}
\draw[e] (addfit) to[out=-20,in=180] (add4);
\mkE{add1}{sncfg}
\mkE{add2}{snc2g}
\mkE{add3}{snc3g}
\mkE{add4}{snc4g}
\draw[e] (add1) .. controls (583,-154) and (586,-160) .. (586,-175) -- (586,-275) .. controls (586,-285) .. (cross8g);
\draw[e] (add2) .. controls (583,-165) and (587,-170) .. (587,-185) -- (587,-313) .. controls (587,-323) .. (finalsg);
\draw[e] (add3) .. controls (583,-176) and (588,-181) .. (588,-196) -- (588,-324) .. controls (588,-334) .. (cm7rg);
\draw[e] (add4) .. controls (583,-187) and (589,-192) .. (589,-207) -- (589,-397) .. controls (589,-407) .. (dyg);
\mkE{addf1}{addfit}
\mkE{addf2}{addfit}
\mkE{cm8g}{cm8}
\draw[e] (cm8) .. controls (585,-205) and (588,-240) .. (cmrg);
\draw[e] (sdssfit) .. controls (445,-240) and (445,-190) .. (addf1);
\draw[e] (sdssfit) .. controls (450,-245) and (450,-200) .. (addf2);
\mkE{sdssfit}{sdss1}
\draw[e] (sdssfit) to[out=-10,in=180] (sdss2);
\draw[e] (flbaseo) .. controls (445,-40) and (438,-60) .. (438,-90) -- (438,-250) .. controls (438,-262) .. (sdssfit);
\draw[e] (adt2) .. controls (450,-140) and (436,-200) .. (436,-240) .. controls (436,-255) .. (sdssfit);
\draw[e] (adc1) to[out=0,in=170] (fitsA);
\draw[e] (adc2) to[out=0,in=180] (fitsA);
\draw[e] (adc3) to[out=0,in=190] (fitsA);
\draw[e] (adc4) to[out=0,in=200] (fitsA);
\draw[e] (adc1) to[out=0,in=160] (fitsB);
\draw[e] (adc2) to[out=0,in=170] (fitsB);
\draw[e] (adc3) to[out=0,in=180] (fitsB);
\draw[e] (adc4) to[out=0,in=185] (fitsB);
\mkE{fitsA}{fitsAo}
\mkE{fitsB}{fitsBo}
\mkE{sdss1}{addb}
\mkE{sdss2}{addb}
\mkE{adc5}{addb}
\draw[e] (addb) to[out=40,in=180] (ab1);
\draw[e] (addb) to[out=18,in=180] (ab2);
\mkE{addb}{ab3}
\draw[e] (addb) to[out=-25,in=180] (ab4);
\mkE{ab1}{cmrg}
\mkE{ab2}{cross8g}
\mkE{ab3}{cross8g}
\mkE{ab4}{finalsg}
\mkE{dpc}{cross8g}
\draw[e] (dpc) .. controls (585,-310) and (590,-340) .. (cross10g);
\mkE{cmrg}{cmr}
\mkE{cross8g}{cross8}
\draw[e] (addc1) .. controls (520,-322) .. (finalsg);
\draw[e] (addc2) .. controls (530,-333) .. (cm7rg);
\draw[e] (addc3) .. controls (530,-346) .. (cross9g);
\mkE{finalsg}{finals}
\mkE{cm7rg}{cm7r}
\mkE{cross9g}{cross9}
\mkE{cross10g}{cross10}
\draw[e] (finals) .. controls (648,-323) .. (dc7g);
\draw[e] (finals) .. controls (648,-330) and (645,-360) .. (dc7bg);
\draw[e] (finals) .. controls (645,-330) and (640,-390) .. (dcmg);
\draw[e] (finals) .. controls (642,-330) and (638,-410) .. (dcm2g);
\draw[e] (cm7r) .. controls (650,-340) .. (dc7bg);
\mkE{dc7g}{dc7}
\mkE{dc7bg}{dc7b}
\mkE{dcmg}{dcm}
\mkE{dcm2g}{dcm2}
\mkE{cm9}{dcmg}
\mkE{dy}{dcm2g}
\mkE{fittab}{ft1}
\draw[e] (fittab) .. controls (540,-385) and (545,-405) .. (ft4);
\mkE{ft1}{dc8g}
\mkE{ft2}{dc8g}
\mkE{ft3}{cm9g}
\mkE{ft4}{dyg}
\mkE{ft5}{dyg}
\mkE{dc8g}{dc8}
\mkE{cm9g}{cm9}
\mkE{dyg}{dy}
\draw[e] (dc8) .. controls (650,-384) and (652,-370) .. (dc7bg);
\draw[e] (smvo1) .. controls (420,-460) and (415,-422) .. (450,-422) -- (640,-422) -- (dcm2g);
\draw[e] (adc1) .. controls (498,-218) and (500,-230) .. (500,-250) -- (500,-580) .. controls (500,-598) .. (smevg);
\draw[e] (adc2) .. controls (500,-230) and (503,-245) .. (503,-265) -- (503,-655) .. controls (503,-672) .. (smsel);
\draw[e] (adc3) .. controls (502,-241) and (506,-255) .. (506,-275) -- (506,-670) .. controls (506,-684) .. (sfsel);
\draw[e] (adc4) .. controls (500,-252) and (509,-265) .. (509,-285) -- (509,-485) .. controls (509,-503) .. (plotg);
\draw[e] (d1a) .. controls (540,-429) and (560,-410) .. (dyg);
\draw[e] (d1b) .. controls (540,-440) and (565,-400) .. (cm9g);
\draw[e] (smev) .. controls (610,-601) and (640,-595) .. (650,-575) .. controls (660,-550) and (660,-440) .. (dcm2g);
\end{pgfonlayer}
\end{tikzpicture}
\end{document}
